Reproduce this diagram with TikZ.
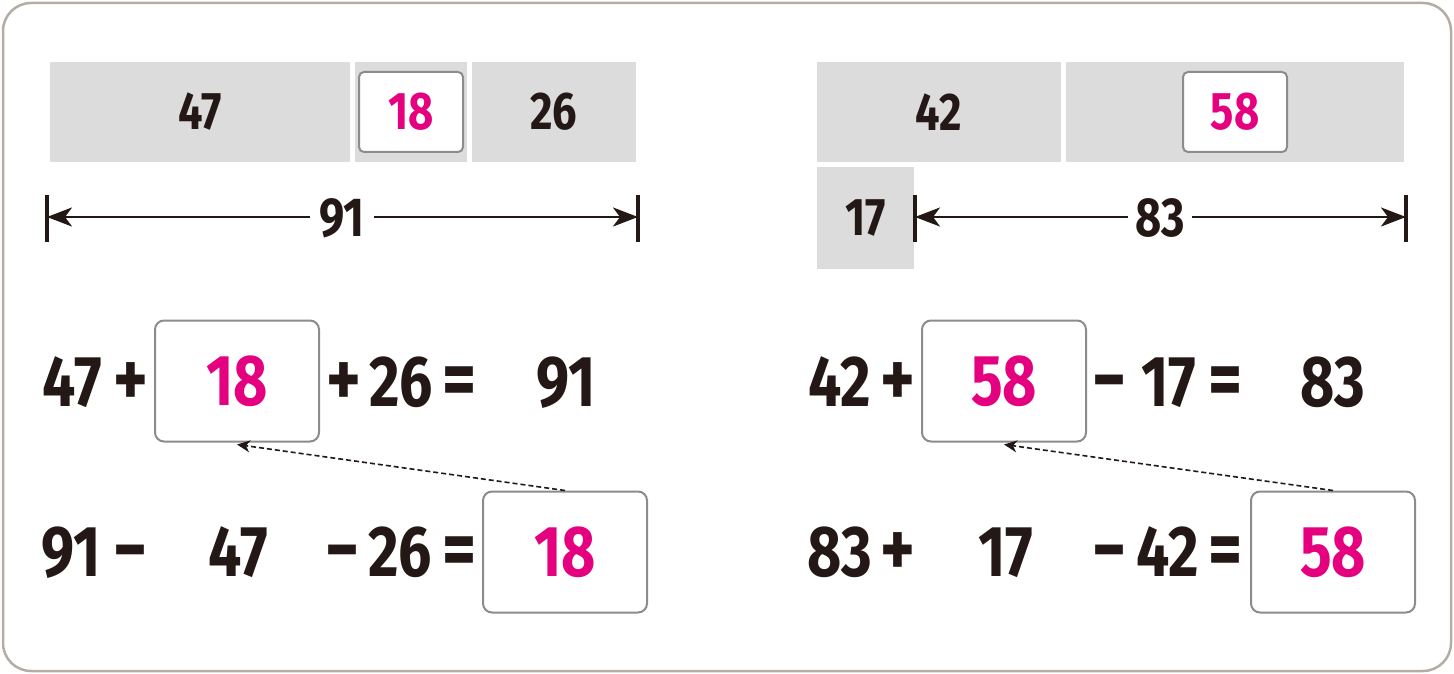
\documentclass[tikz,border=0pt]{standalone}
\usepackage{fontspec}
\setmainfont{Fira Sans}[FakeStretch=0.82]
\usetikzlibrary{arrows.meta, positioning}
\definecolor{barGray}{HTML}{DCDCDC}
\definecolor{numPink}{HTML}{E4007F}
\definecolor{numBlack}{HTML}{231815}
\definecolor{boxGray}{HTML}{8C8C8C}
\definecolor{frameGray}{HTML}{B5ADA5}

\begin{document}
\begin{tikzpicture}[
    x=1pt, y=-1pt,
    bar/.style={fill=barGray, inner sep=0pt, minimum height=100, text=numBlack,
        font=\fontsize{53}{53}\selectfont\bfseries},
    gapbox/.style={draw=boxGray, line width=2pt, fill=white, rounded corners=5pt,
        minimum width=104, minimum height=80, inner sep=0pt, text=numPink,
        font=\fontsize{53}{53}\selectfont\bfseries},
    eqbox/.style={draw=boxGray, line width=2pt, fill=white, rounded corners=9pt,
        minimum width=164, minimum height=121, inner sep=0pt, text=numPink,
        font=\fontsize{72}{72}\selectfont\bfseries},
    num/.style={anchor=base, inner sep=0pt, text=numBlack,
        font=\fontsize{72}{72}\selectfont\bfseries},
    op/.style={anchor=base, inner sep=0pt, text=numBlack,
        font=\fontsize{80}{80}\selectfont\bfseries},
    dimlabel/.style={fill=white, inner sep=0pt, minimum width=64, minimum height=40,
        text=numBlack, font=\fontsize{55}{55}\selectfont\bfseries},
    dimarrow/.style={{Stealth[length=25pt, width=19pt, inset=7pt]}-{Stealth[length=25pt, width=19pt, inset=7pt]},
        line width=2.7pt, draw=numBlack},
    tick/.style={line width=4.5pt, draw=numBlack},
    hint/.style={-{Stealth[length=13pt, width=12pt, inset=4pt]}, line width=1.6pt,
        draw=numBlack, dash pattern=on 5pt off 3pt}
]
\useasboundingbox (0,0) rectangle (1454,674);

% frame
\draw[frameGray, line width=2.5pt, rounded corners=28pt] (3,3) rectangle (1451,671);

% Left bar model
\node[bar, minimum width=300] (barL47) at (200,112) {47};
\node[bar, minimum width=112] (barL18) at (411,112) {};
\node[bar, minimum width=164] (barL26) at (554,112) {26};
\node[gapbox] (gapL) at (barL18) {18};

\coordinate (dimLa) at (47,217);
\coordinate (dimLb) at (638,217);
\draw[dimarrow] (dimLa) -- (dimLb);
\draw[tick] (47,195) -- (47,242);
\draw[tick] (638,195) -- (638,242);
\node[dimlabel] (sumL) at (342,218) {91};

% Right bar model
\node[bar, minimum width=244] (barR42) at (939,112) {42};
\node[bar, minimum width=338] (barR58) at (1235,112) {};
\node[gapbox] (gapR) at (barR58) {58};
\node[bar, minimum width=97, minimum height=102] (barR17) at (865.5,218) {17};

\coordinate (dimRa) at (915,217);
\coordinate (dimRb) at (1406,217);
\draw[dimarrow] (dimRa) -- (dimRb);
\draw[tick] (915,195) -- (915,242);
\draw[tick] (1406,195) -- (1406,242);
\node[dimlabel] (sumR) at (1160,218) {83};

% Left equations
\node[num] (eqLa1) at (72,406) {47};
\node[op] (eqLa2) at (131,406) {+};
\node[eqbox] (boxLa) at (237,381) {18};
\node[op] (eqLa3) at (344,406) {+};
\node[num] (eqLa4) at (401,406) {26};
\node[op] (eqLa5) at (460,406) {=};
\node[num] (eqLa6) at (566,406) {91};

\node[num] (eqLb1) at (71,576) {91};
\node[op] (eqLb2) at (131,576) {−};
\node[num] (eqLb3) at (238,576) {47};
\node[op] (eqLb4) at (343,576) {−};
\node[num] (eqLb5) at (400,576) {26};
\node[op] (eqLb6) at (460,576) {=};
\node[eqbox] (boxLb) at (565,552) {18};

\draw[hint] (boxLb.north) -- ([yshift=-2pt]boxLa.south);

% Right equations
\node[num] (eqRa1) at (840,406) {42};
\node[op] (eqRa2) at (898,406) {+};
\node[eqbox] (boxRa) at (1004,381) {58};
\node[op] (eqRa3) at (1110,406) {−};
\node[num] (eqRa4) at (1169,406) {17};
\node[op] (eqRa5) at (1226,406) {=};
\node[num] (eqRa6) at (1333,406) {83};

\node[num] (eqRb1) at (840,576) {83};
\node[op] (eqRb2) at (898,576) {+};
\node[num] (eqRb3) at (1006,576) {17};
\node[op] (eqRb4) at (1110,576) {−};
\node[num] (eqRb5) at (1168,576) {42};
\node[op] (eqRb6) at (1226,576) {=};
\node[eqbox] (boxRb) at (1333,552) {58};

\draw[hint] (boxRb.north) -- ([yshift=-2pt]boxRa.south);
\end{tikzpicture}
\end{document}
